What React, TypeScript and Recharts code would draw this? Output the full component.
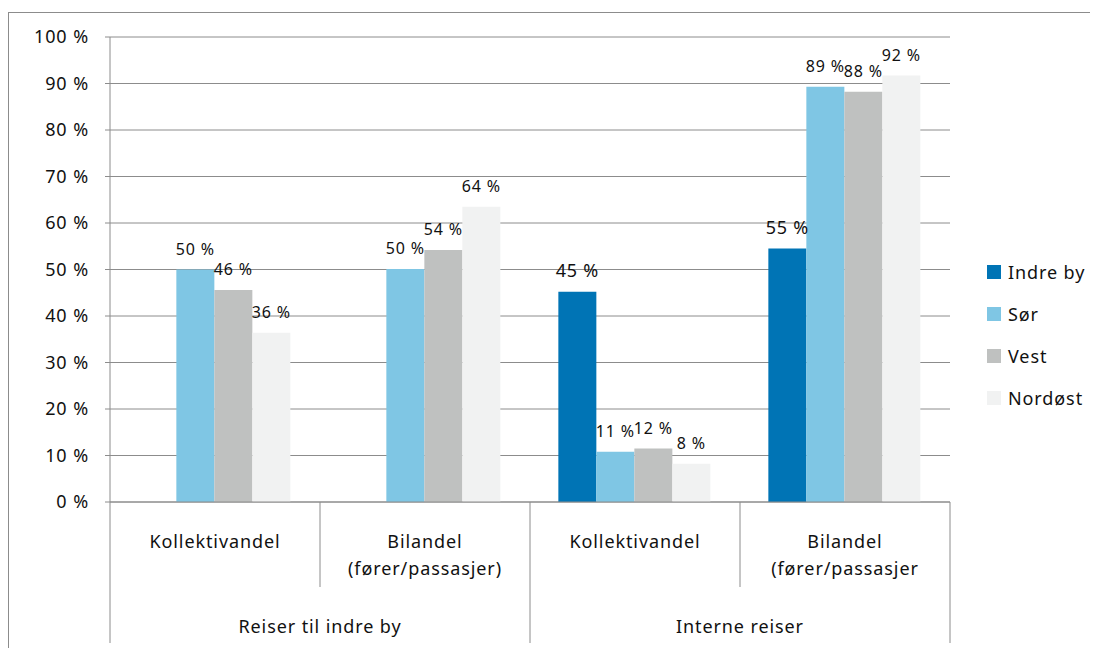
import { BarChart, Bar, XAxis, YAxis, CartesianGrid, LabelList } from 'recharts';

const categories = ['Kollektivandel', 'Bilandel\n(fører/passasjer)', 'Kollektivandel', 'Bilandel\n(fører/passasjer'];
const groups = ['Reiser til indre by', 'Interne reiser'];
const indreBy = [null, null, 45.2, 54.5];
const sor = [50.0, 50.1, 10.8, 89.3];
const vest = [45.6, 54.2, 11.5, 88.2];
const nordost = [36.4, 63.5, 8.2, 91.7];
const yTicks = [0, 10, 20, 30, 40, 50, 60, 70, 80, 90, 100];

const series = [
  { key: 'indreBy', name: 'Indre by', color: '#0074b5', labelSize: 18 },
  { key: 'sor', name: 'Sør', color: '#7fc6e4', labelSize: 16 },
  { key: 'vest', name: 'Vest', color: '#bfc1c0', labelSize: 16 },
  { key: 'nordost', name: 'Nordøst', color: '#f1f2f2', labelSize: 16 },
];

const data = categories.map((c, i) => ({
  id: 'c' + i,
  indreBy: indreBy[i],
  sor: sor[i],
  vest: vest[i],
  nordost: nordost[i],
}));

const lineColor = '#8c8c8c';
const pct = (v: any) => (v == null ? '' : `${Math.round(v)} %`);

function CategoryTick(props: any) {
  const { x, y, payload, index } = props;
  const i = index ?? payload.index;
  const half = payload.offset ?? 105;
  const lines = categories[i].split('\n');
  const firstInGroup = i % 2 === 0;
  return (
    <g>
      {lines.map((l, k) => (
        <text key={k} x={x} y={y + 46 + k * 27} textAnchor='middle' fontSize={18} fill='#111' style={{ letterSpacing: 0.9 }}>
          {l}
        </text>
      ))}
      {i === 0 && <line x1={x - half} x2={x - half} y1={y} y2={y + 141} stroke={lineColor} />}
      <line x1={x + half} x2={x + half} y1={y} y2={y + (firstInGroup ? 85 : 141)} stroke={lineColor} />
      {firstInGroup && (
        <text x={x + half} y={y + 131} textAnchor='middle' fontSize={18} fill='#111' style={{ letterSpacing: 0.9 }}>
          {groups[i / 2]}
        </text>
      )}
    </g>
  );
}

export default function App() {
  return (
    <div style={{ position: 'relative', width: 1090, height: 640, fontFamily: 'Noto Sans', background: '#fff' }}>
      <div
        style={{
          position: 'absolute',
          left: 0,
          top: 4,
          width: 1090,
          height: 636,
          borderTop: `1px solid ${lineColor}`,
          borderLeft: `1px solid ${lineColor}`,
        }}
      />
      <BarChart
        width={1090}
        height={640}
        data={data}
        margin={{ top: 29, right: 148, bottom: 0, left: 0 }}
        barCategoryGap='13.5%'
        barGap={0}
        style={{ position: 'absolute', left: 0, top: 0 }}
      >
        <CartesianGrid vertical={false} stroke={lineColor} />
        <XAxis
          dataKey='id'
          height={146}
          interval={0}
          tickSize={0}
          tickMargin={0}
          tickLine={false}
          axisLine={{ stroke: lineColor }}
          tick={<CategoryTick />}
        />
        <YAxis
          domain={[0, 100]}
          ticks={yTicks}
          width={102}
          tickSize={5}
          tickMargin={16}
          axisLine={{ stroke: lineColor }}
          tickLine={{ stroke: lineColor }}
          tickFormatter={pct}
          tick={{ fontSize: 18, fill: '#111', style: { letterSpacing: 0.9 } }}
        />
        {series.map((s) => (
          <Bar key={s.key} dataKey={s.key} name={s.name} fill={s.color} isAnimationActive={false}>
            <LabelList
              dataKey={s.key}
              position='top'
              offset={15}
              formatter={pct}
              fontSize={s.labelSize}
              fill='#111'
              style={{ letterSpacing: 0.8 }}
            />
          </Bar>
        ))}
      </BarChart>
      <div style={{ position: 'absolute', left: 979, top: 243 }}>
        {series.map((s) => (
          <div key={s.key} style={{ display: 'flex', alignItems: 'center', height: 42 }}>
            <span style={{ width: 14, height: 14, background: s.color, display: 'inline-block', marginRight: 7 }} />
            <span style={{ fontSize: 18, color: '#111', letterSpacing: 0.9 }}>{s.name}</span>
          </div>
        ))}
      </div>
    </div>
  );
}
